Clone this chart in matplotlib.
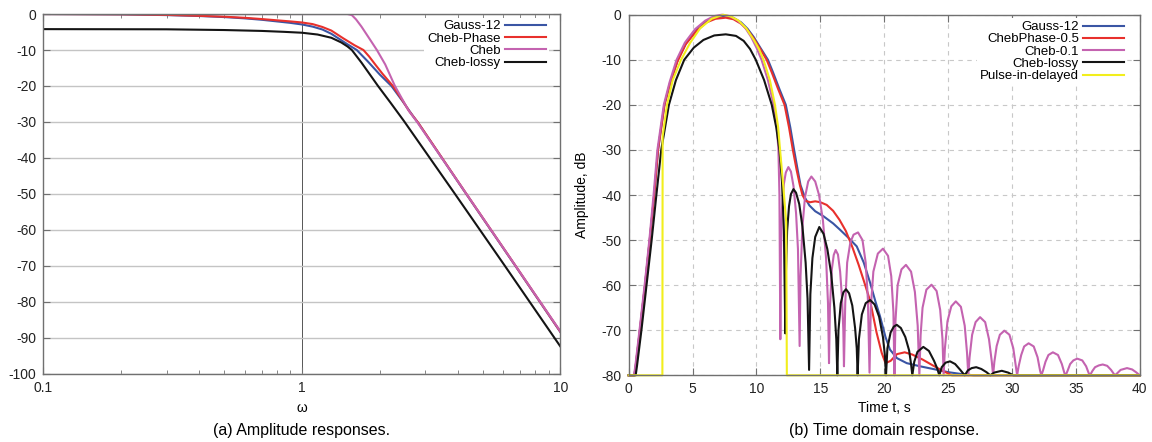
import numpy as np
import matplotlib
matplotlib.use('Agg')
import matplotlib.pyplot as plt
from matplotlib.ticker import FixedLocator, FixedFormatter, LogLocator, NullFormatter

plt.rcParams['font.family'] = ['Liberation Sans', 'DejaVu Sans']
plt.rcParams['axes.unicode_minus'] = False

# ---------- (a) amplitude responses ----------
w_gauss = [0.1, 0.2, 0.3, 0.4, 0.5, 0.6, 0.7, 0.8, 0.9, 1.0, 1.1, 1.2, 1.3, 1.4, 1.5, 1.63, 1.8, 2.0,
           2.22, 2.45, 2.7, 2.82, 4.33, 6.71, 10.0]
a_gauss = [0, -0.1, -0.3, -0.55, -0.85, -1.2, -1.6, -2.05, -2.45, -2.9, -3.5, -4.3, -5.5, -7.0, -8.4,
           -10, -13.2, -16.8, -20, -24.2, -28.5, -30.3, -50.1, -70.1, -88.4]

w_chph = [0.1, 0.2, 0.3, 0.4, 0.5, 0.6, 0.7, 0.8, 0.9, 1.0, 1.1, 1.2, 1.3, 1.445, 1.6, 1.73, 1.82, 1.93,
          2.05, 2.25, 2.45, 2.6, 2.81, 4.33, 6.71, 10.0]
a_chph = [0, -0.08, -0.25, -0.5, -0.75, -1.05, -1.4, -1.75, -2.05, -2.35, -2.8, -3.6, -4.6, -6.75, -8.7,
          -10, -11.8, -14.2, -16.6, -20, -24, -27, -30.1, -50.0, -70.0, -88.3]

w_cheb = [0.1, 0.5, 1.0, 1.5, 1.56, 1.62, 1.7, 1.8, 1.95, 2.1, 2.29, 2.58, 2.79, 4.33, 6.71, 10.0]
a_cheb = [0, 0, 0, 0, -0.3, -1.5, -3.5, -6.2, -10, -14, -20, -26.7, -30, -50, -70, -88.2]

w_lossy = [0.1, 0.3, 0.5, 0.7, 0.85, 1.0, 1.15, 1.3, 1.42, 1.5, 1.56, 1.7, 1.97, 2.2, 2.48, 3.91, 6.1, 10.0]
a_lossy = [-4.2, -4.25, -4.45, -4.7, -4.95, -5.2, -5.7, -6.6, -7.9, -9.0, -10, -13.5, -20, -24.6, -29.7,
           -50, -70, -92.4]

# ---------- (b) time domain response ----------
t_gauss = [0.0, 0.45, 0.55, 0.88, 1.28, 1.65, 2.0, 2.3, 2.8, 3.28, 3.85, 4.5, 5.35, 6.15, 6.8, 7.6, 8.2,
           8.8, 9.3, 9.8, 10.3, 10.9, 11.3, 11.8, 12.3, 12.65, 12.95, 13.2, 13.45, 13.8, 14.14, 14.6,
           15.24, 16.0, 16.54, 17.2, 17.85, 18.4, 18.9, 19.3, 19.67, 20.1, 20.45, 21.0, 21.76, 22.8,
           24.0, 25.0, 26.0, 27.0, 40.0]
d_gauss = [-80, -80, -78, -70, -60, -50, -40, -30, -20, -15, -10, -6.3, -3.3, -1.4, -0.6, -0.3, -0.7,
           -1.7, -3.1, -5.0, -7.3, -10, -12.8, -16.5, -20, -25, -30, -34, -37.8, -40.6, -42.3, -43.6,
           -44.7, -46.3, -47.7, -49.5, -51.4, -55, -59.5, -63.5, -66.9, -71.5, -74.3, -76.2, -77.3, -78,
           -78.7, -79.3, -79.7, -80, -80]

t_chph = [0, 0.45, 0.55, 0.88, 1.28, 1.65, 2.0, 2.3, 2.8, 3.25, 3.8, 4.45, 5.3, 6.1, 6.8, 7.6, 8.2, 8.8,
          9.3, 9.8, 10.3, 10.8, 11.2, 11.7, 12.2, 12.55, 12.85, 13.15, 13.4, 13.6, 13.85, 14.2, 14.6,
          15.0, 15.5, 16.0, 16.5, 17.0, 17.5, 18.0, 18.4, 18.9, 19.4, 19.8, 20.1, 20.5, 21.0, 21.6,
          22.2, 23.0, 23.8, 24.5, 25.3, 40]
d_chph = [-80, -80, -78, -70, -60, -50, -40, -30, -20, -15, -10.5, -6.6, -3.6, -1.7, -0.9, -0.66, -1.0,
          -2.0, -3.4, -5.3, -7.6, -10, -12.8, -16.5, -20, -25, -30, -34.5, -37.8, -40, -41.3, -41.6,
          -41.4, -41.6, -42.2, -43.5, -45.5, -48, -51.5, -55.5, -59, -63.5, -70.5, -75, -77.3, -76.8,
          -75.3, -74.9, -75.4, -76.5, -77.8, -78.9, -80, -80]

t_cheb = [0, 0.42, 0.52, 0.85, 1.25, 1.62, 1.95, 2.25, 2.75, 3.2, 3.75, 4.4, 5.2, 6.0, 6.7, 7.3, 7.9, 8.5,
          9.1, 9.6, 10.0, 10.4, 10.9, 11.35, 11.6, 11.72, 11.8, 11.87,
          11.92, 12.0, 12.15, 12.3, 12.5, 12.7, 12.9, 13.1, 13.25, 13.38,
          13.45, 13.6, 13.8, 14.05, 14.3, 14.6, 14.9, 15.2, 15.45, 15.6, 15.68,
          15.75, 15.9, 16.05, 16.2, 16.38, 16.55, 16.7, 16.8, 16.85,
          16.95, 17.1, 17.35, 17.6, 17.95, 18.3, 18.55, 18.72, 18.85,
          18.95, 19.15, 19.5, 19.9, 20.3, 20.55, 20.72, 20.8,
          20.88, 21.05, 21.35, 21.7, 22.1, 22.4, 22.62, 22.75,
          22.85, 23.0, 23.3, 23.7, 24.1, 24.38, 24.56, 24.65,
          24.75, 24.95, 25.25, 25.6, 26.0, 26.3, 26.48, 26.58,
          26.68, 26.88, 27.15, 27.5, 27.9, 28.2, 28.42, 28.52,
          28.62, 28.8, 29.05, 29.4, 29.8, 30.1, 30.3, 30.4,
          30.52, 30.72, 30.95, 31.3, 31.7, 32.0, 32.2, 32.3,
          32.42, 32.62, 32.85, 33.2, 33.6, 33.9, 34.1, 34.2,
          34.35, 34.55, 34.8, 35.1, 35.5, 35.8, 36.0, 36.1,
          36.3, 36.5, 36.8, 37.1, 37.45, 37.75, 38.05,
          38.25, 38.5, 39.0, 39.4, 39.7, 40.0]
d_cheb = [-80, -80, -78, -70, -60, -50, -40, -30, -20, -15, -10, -6.2, -3.2, -1.3, -0.3, 0, -0.3, -1.2,
          -2.8, -5, -7.3, -10, -14.5, -20, -25, -30, -40, -72,
          -52, -43, -37.5, -35, -33.8, -34.8, -38, -44, -52, -73.5,
          -58, -47, -40.5, -37, -35.9, -37, -40, -45.5, -54, -64, -77.3,
          -65, -56.5, -53.3, -52.2, -53.2, -57, -63, -70, -78,
          -64, -55, -50.5, -48.8, -48.3, -50, -55, -63, -79.4,
          -65, -57, -53, -51.9, -53.5, -58, -66, -80,
          -68, -60, -56.5, -55.5, -57, -61.5, -69, -80,
          -71, -65, -61, -59.9, -61.3, -65.5, -72, -80,
          -74, -68, -64.7, -63.6, -64.8, -69, -75, -80,
          -76, -71, -68.2, -67.1, -68.2, -72, -77, -80,
          -77, -73.5, -71, -70.1, -71, -74, -78, -80,
          -78, -75.5, -73.6, -72.9, -73.6, -76, -79, -80,
          -79, -77, -75.5, -74.9, -75.5, -77.5, -79.5, -80,
          -79, -77.5, -76.7, -76.3, -76.7, -78, -79.5, -80,
          -79, -78.2, -77.8, -77.6, -77.9, -78.8, -80,
          -79.5, -78.8, -78.4, -78.7, -79.3, -80]

t_lossy = [0, 0.55, 0.65, 1.0, 1.4, 1.8, 2.17, 2.55, 3.15, 3.7, 4.35, 5.1, 5.85, 6.7, 7.6, 8.4, 9.0, 9.5,
           9.95, 10.6, 11.2, 11.55, 11.8, 12.0, 12.15, 12.26,
           12.3, 12.4, 12.55, 12.7, 12.9, 13.1, 13.35, 13.6, 13.85, 14.0, 14.12,
           14.22, 14.38, 14.6, 14.92, 15.25, 15.55, 15.85, 16.1, 16.25, 16.33,
           16.42, 16.6, 16.8, 17.01, 17.25, 17.5, 17.72, 17.85, 17.92,
           18.02, 18.25, 18.55, 18.9, 19.25, 19.6, 19.9, 20.05, 20.14,
           20.25, 20.5, 20.75, 20.98, 21.3, 21.65, 21.95, 22.1, 22.2,
           22.35, 22.6, 23.06, 23.5, 23.9, 24.15, 24.31,
           24.5, 24.8, 25.15, 25.55, 25.95, 26.3,
           26.55, 26.85, 27.2, 27.6, 28.0, 28.3,
           28.6, 29.2, 29.7, 30.1, 40.0]
d_lossy = [-80, -80, -78, -70, -60, -50, -40, -30, -20, -14.5, -10, -7.3, -5.6, -4.6, -4.35, -4.7, -5.8,
           -7.6, -10, -14.5, -20, -25, -30, -37, -48, -70.7,
           -58, -48, -42.5, -39.8, -38.7, -39.5, -42, -47, -55, -63, -78.8,
           -62, -54, -49.3, -47.1, -48.6, -52, -57.5, -65, -72, -80,
           -70, -64, -61.6, -60.9, -61.8, -64.5, -69.5, -74, -80,
           -72, -66.5, -64, -63.3, -64.3, -67, -71.5, -75.5, -80,
           -74, -70.5, -69.2, -68.8, -69.5, -71.5, -74.5, -77.5, -80,
           -77, -74.8, -73.7, -74.6, -76.8, -78.5, -80,
           -78.2, -77.2, -76.9, -77.5, -78.8, -80,
           -78.9, -78.4, -78.2, -78.6, -79.3, -80,
           -79.4, -79.0, -79.4, -80, -80]

t_pulse = [0, 2.64, 2.66, 3.0, 3.45, 4.1, 4.8, 5.6, 6.5, 7.4, 8.0, 8.6, 9.2, 9.8, 10.2, 10.55,
           11.05, 11.45, 11.7, 11.85, 12.1, 12.33, 12.38, 40]
d_pulse = [-80, -80, -27, -20, -14.5, -10, -6.3, -3.0, -0.9, 0, -0.4, -1.3, -3.0, -5.6, -7.6, -10,
           -14.5, -20, -25, -30, -38, -46, -80, -80]

c_blue = '#3a55a4'
c_red = '#e8302c'
c_pink = '#c463b0'
c_black = '#141414'
c_yellow = '#f2ee1c'
frame = '#707070'

fig = plt.figure(figsize=(11.52, 4.42), dpi=100)
ax1 = fig.add_axes([0.0376, 0.154, 0.4489, 0.8143])
ax2 = fig.add_axes([0.5457, 0.1509, 0.4437, 0.8158])


def right_legend(ax, bbox):
    leg = ax.legend(loc='upper right', bbox_to_anchor=bbox, markerfirst=False, fontsize=9.5,
                    handlelength=3.1, handletextpad=0.35, labelspacing=0.0, borderpad=0.2,
                    borderaxespad=0, frameon=True, fancybox=False, framealpha=1,
                    facecolor='white', edgecolor='none')
    for col in leg._legend_handle_box.get_children():
        col.align = 'right'
    return leg


# left panel
lw = 1.5
ax1.plot(w_gauss, a_gauss, color=c_blue, lw=lw, label='Gauss-12')
ax1.plot(w_chph, a_chph, color=c_red, lw=lw, label='Cheb-Phase')
ax1.plot(w_cheb, a_cheb, color=c_pink, lw=lw, label='Cheb')
ax1.plot(w_lossy, a_lossy, color=c_black, lw=lw, label='Cheb-lossy')
ax1.set_xscale('log')
ax1.set_xlim(0.1, 10)
ax1.set_ylim(-100, 0)
ax1.set_yticks(np.arange(-100, 1, 10))
ax1.xaxis.set_major_locator(FixedLocator([0.1, 1, 10]))
ax1.xaxis.set_major_formatter(FixedFormatter(['0.1', '1', '10']))
ax1.xaxis.set_minor_locator(LogLocator(base=10, subs=np.arange(2, 10)))
ax1.xaxis.set_minor_formatter(NullFormatter())
ax1.grid(axis='y', color='#c4c4c4', lw=1.0, ls='-')
ax1.axvline(1, color='#555555', lw=0.7, zorder=0.5)
ax1.set_xlabel('ω', fontsize=10)
ax1.xaxis.set_label_coords(0.5, -0.095)
ax1.xaxis.label.set_va('center')
right_legend(ax1, (0.977, 0.99))

# right panel
ax2.plot(t_gauss, d_gauss, color=c_blue, lw=lw, label='Gauss-12', clip_on=False)
ax2.plot(t_chph, d_chph, color=c_red, lw=lw, label='ChebPhase-0.5', clip_on=False)
ax2.plot(t_cheb, d_cheb, color=c_pink, lw=lw, label='Cheb-0.1', clip_on=False)
ax2.plot(t_lossy, d_lossy, color=c_black, lw=lw, label='Cheb-lossy', clip_on=False)
ax2.plot(t_pulse, d_pulse, color=c_yellow, lw=lw, label='Pulse-in-delayed', clip_on=False)
ax2.set_xlim(0, 40)
ax2.set_ylim(-80, 0)
ax2.set_xticks(np.arange(0, 41, 5))
ax2.set_yticks(np.arange(-80, 1, 10))
ax2.grid(True, color='#c8c8c8', lw=0.8, ls=(0, (4, 4)))
ax2.set_xlabel('Time t, s', fontsize=10)
ax2.xaxis.set_label_coords(0.5, -0.092)
ax2.xaxis.label.set_va('center')
ax2.set_ylabel('Amplitude, dB', fontsize=10)
ax2.yaxis.set_label_coords(-0.092, 0.5)
ax2.yaxis.label.set_va('center')
right_legend(ax2, (0.975, 0.99))

for ax in (ax1, ax2):
    ax.set_axisbelow(True)
    for s in ax.spines.values():
        s.set_color(frame)
        s.set_linewidth(1.0)
    ax.tick_params(which='both', direction='in', top=True, right=True, colors=frame,
                   labelcolor='#222222', labelsize=10)
    ax.tick_params(which='major', length=5, pad=5)
    ax.tick_params(which='minor', length=3)

fig.text(0.2621, 0.025, '(a) Amplitude responses.', ha='center', va='center', fontsize=11.5)
fig.text(0.7676, 0.025, '(b) Time domain response.', ha='center', va='center', fontsize=11.5)

fig.savefig('out.png', dpi=100)
